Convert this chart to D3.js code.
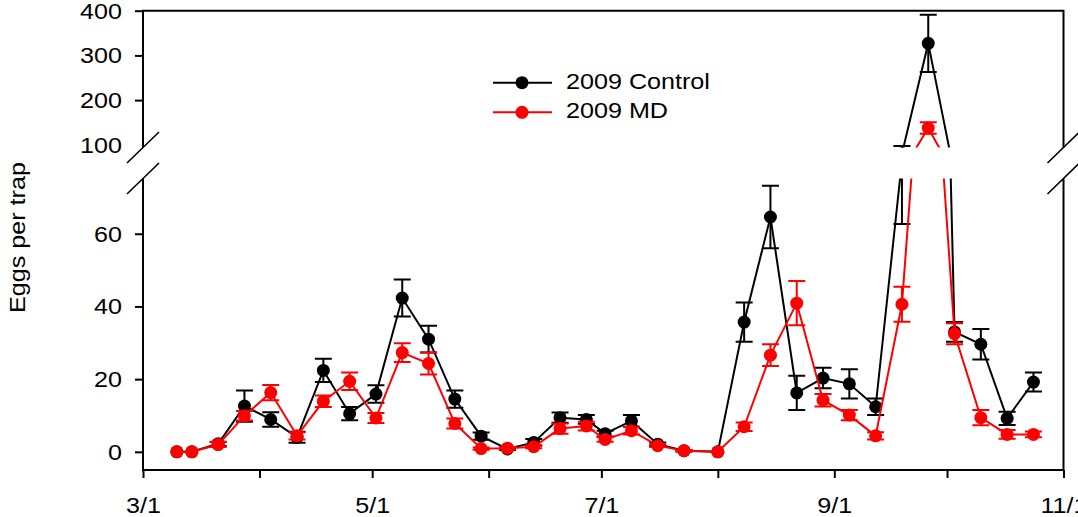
<!DOCTYPE html>
<html>
<head>
<meta charset="utf-8">
<script src="https://cdn.jsdelivr.net/npm/d3@7"></script>
<style>
body { margin: 0; background: #fff; }
svg { display: block; font-family: "Liberation Sans", Arial, sans-serif; }
</style>
</head>
<body>
<svg id="chart" width="1078" height="517"></svg>
<script>
// sampling dates (2009) and trap counts
let dates = ["2009-03-10","2009-03-14","2009-03-21","2009-03-28","2009-04-04","2009-04-11",
    "2009-04-18","2009-04-25","2009-05-02","2009-05-09","2009-05-16","2009-05-23","2009-05-30",
    "2009-06-06","2009-06-13","2009-06-20","2009-06-27","2009-07-02","2009-07-09","2009-07-16",
    "2009-07-23","2009-08-01","2009-08-08","2009-08-15","2009-08-22","2009-08-29","2009-09-05",
    "2009-09-12","2009-09-19","2009-09-26","2009-10-03","2009-10-10","2009-10-17","2009-10-24"];
let control_mean = [0, 0, 2.2, 12.6, 8.9, 4.0, 22.4, 10.5, 15.9, 42.3, 31.0, 14.5, 4.3,
    0.8, 2.6, 9.4, 8.9, 5.0, 8.5, 2.1, 0.3, 0, 35.7, 64.6, 16.2, 20.3, 18.7,
    12.4, 80, 327, 33, 29.6, 9.2, 19.2];
let control_se = [0, 0, 0.6, 4.3, 2.0, 1.5, 3.2, 1.8, 2.4, 5.1, 3.7, 2.4, 1.0,
    0.3, 0.9, 1.4, 1.2, 0.8, 1.6, 0.5, 0.2, 0, 5.4, 8.6, 4.7, 2.8, 4.0,
    2.3, 17.3, 64, 2.7, 4.2, 1.8, 2.6];
let md_mean = [0, 0, 2.0, 9.9, 16.3, 4.4, 13.9, 19.4, 9.3, 27.3, 24.3, 7.8, 0.9,
    1.0, 1.4, 6.4, 7.1, 3.4, 5.8, 1.7, 0.3, 0, 6.9, 26.6, 40.9, 14.2, 10.1,
    4.4, 40.6, 137.6, 32.5, 9.4, 4.8, 4.8];
let md_se = [0, 0, 0.7, 1.3, 2.1, 1.0, 1.6, 2.4, 1.4, 2.6, 3.0, 1.4, 0.3,
    0.3, 0.4, 1.4, 1.2, 0.6, 1.0, 0.4, 0.2, 0, 1.2, 3.0, 6.1, 1.7, 1.4,
    1.0, 4.8, 13, 2.9, 2.1, 1.2, 0.8];
let series_names = ["2009 Control", "2009 MD"];
let series_colors = ["#000000", "#ff0000"];
let month_ticks = ["2009-03-01","2009-04-01","2009-05-01","2009-06-01","2009-07-01",
    "2009-08-01","2009-09-01","2009-10-01","2009-11-01"];
let month_labels = ["3/1", "", "5/1", "", "7/1", "", "9/1", "", "11/1"];
let low_ticks = [0, 20, 40, 60];
let high_ticks = [100, 200, 300, 400];
let y_title = "Eggs per trap";

let parse = d3.utcParse("%Y-%m-%d");
let font_size = 21.5;
let sx = 1.17;   // glyphs in the figure are wider than Arial

let svg = d3.select("#chart");
let plot_left = 143, plot_right = 1063.5, plot_bottom = 470, plot_top = 10.7;
let low_top = 178.5, high_bottom = 147.5;

let x = d3.scaleUtc()
    .domain([parse("2009-03-01"), parse("2009-11-01")])
    .range([plot_left, plot_right]);
let y_low = d3.scaleLinear().domain([-5, 75.2]).range([plot_bottom, low_top]);
let y_high = d3.scaleLinear().domain([94, 400]).range([high_bottom, plot_top]);

let series = [control_mean, md_mean].map((m, k) => {
    let se = k === 0 ? control_se : md_se;
    return dates.map((d, i) => ({date: parse(d), mean: m[i], se: se[i]}));
});

let defs = svg.append("defs");
defs.append("clipPath").attr("id", "clip-low").append("rect")
    .attr("x", plot_left).attr("y", low_top)
    .attr("width", plot_right - plot_left).attr("height", plot_bottom - low_top);
defs.append("clipPath").attr("id", "clip-high").append("rect")
    .attr("x", plot_left).attr("y", plot_top)
    .attr("width", plot_right - plot_left).attr("height", high_bottom - plot_top);

function draw_series(panel, y, data, color) {
    let line = d3.line().x(d => x(d.date)).y(d => y(d.mean));
    panel.append("path")
        .datum(data)
        .attr("fill", "none")
        .attr("stroke", color)
        .attr("stroke-width", 2)
        .attr("d", line);

    panel.selectAll(null)
        .data(data.filter(d => d.se > 0))
        .enter().append("path")
            .attr("fill", "none")
            .attr("stroke", color)
            .attr("stroke-width", 2)
            .attr("d", d => {
                let cx = x(d.date), t = y(d.mean + d.se), b = y(d.mean - d.se);
                return `M${cx},${t}V${b}M${cx - 8.5},${t}h17M${cx - 8.5},${b}h17`;
            });

    panel.selectAll(null)
        .data(data)
        .enter().append("circle")
            .attr("cx", d => x(d.date))
            .attr("cy", d => y(d.mean))
            .attr("r", 6.5)
            .attr("fill", color);
}

let low_g = svg.append("g").attr("clip-path", "url(#clip-low)");
let high_g = svg.append("g").attr("clip-path", "url(#clip-high)");
series.forEach((s, k) => {
    draw_series(low_g, y_low, s, series_colors[k]);
    draw_series(high_g, y_high, s, series_colors[k]);
});

// frame and broken axes
let frame = svg.append("g").attr("stroke", "#000").attr("stroke-width", 2).attr("fill", "none");
frame.append("path").attr("d",
    `M${plot_left},${high_bottom}V${plot_top}H${plot_right}V${high_bottom}` +
    `M${plot_left},${low_top}V${plot_bottom}H${plot_right}V${low_top}`);
[plot_left, plot_right].forEach(ax => {
    [high_bottom, low_top].forEach(by => {
        frame.append("line")
            .attr("x1", ax - 16).attr("y1", by + 15.5)
            .attr("x2", ax + 16).attr("y2", by - 15.5)
            .attr("stroke-width", 1.6);
    });
});

function style_text(sel, dx) {
    sel.attr("font-size", font_size)
        .attr("font-family", "'Liberation Sans', Arial, sans-serif")
        .attr("fill", "#000")
        .attr("x", dx / sx)
        .attr("transform", `scale(${sx},1)`);
}

let x_axis = svg.append("g")
    .attr("transform", `translate(0, ${plot_bottom})`)
    .call(d3.axisBottom(x)
        .tickValues(month_ticks.map(parse))
        .tickSize(8)
        .tickSizeOuter(0)
        .tickFormat((d, i) => month_labels[i]));
x_axis.select(".domain").remove();
x_axis.selectAll(".tick line").attr("stroke-width", 2);
x_axis.selectAll(".tick text").call(style_text, 0).attr("y", 43).attr("dy", 0);

let yl_axis = svg.append("g")
    .attr("transform", `translate(${plot_left}, 0)`)
    .call(d3.axisLeft(y_low).tickValues(low_ticks).tickSize(8));
let yh_axis = svg.append("g")
    .attr("transform", `translate(${plot_left}, 0)`)
    .call(d3.axisLeft(y_high).tickValues(high_ticks).tickSize(8));
[yl_axis, yh_axis].forEach(a => {
    a.select(".domain").remove();
    a.selectAll(".tick line").attr("stroke-width", 2);
    a.selectAll(".tick text").call(style_text, -21).attr("dy", "0.35em");
});
yh_axis.selectAll(".tick").filter(d => d === 100).select("line").remove();

svg.append("text")
    .attr("transform", `translate(25, 237.5) rotate(-90) scale(${sx},1)`)
    .attr("text-anchor", "middle")
    .attr("font-size", font_size)
    .text(y_title);

// legend
let legend = svg.append("g");
series_names.forEach((name, k) => {
    let ly = 82.7 + k * 29.6;
    legend.append("line")
        .attr("x1", 493).attr("x2", 552).attr("y1", ly).attr("y2", ly)
        .attr("stroke", series_colors[k]).attr("stroke-width", 2);
    legend.append("circle")
        .attr("cx", 522).attr("cy", ly).attr("r", 6.5).attr("fill", series_colors[k]);
    legend.append("text")
        .attr("transform", `translate(566, ${ly + 5.8}) scale(${sx},1)`)
        .attr("font-size", font_size)
        .text(name);
});
</script>
</body>
</html>
